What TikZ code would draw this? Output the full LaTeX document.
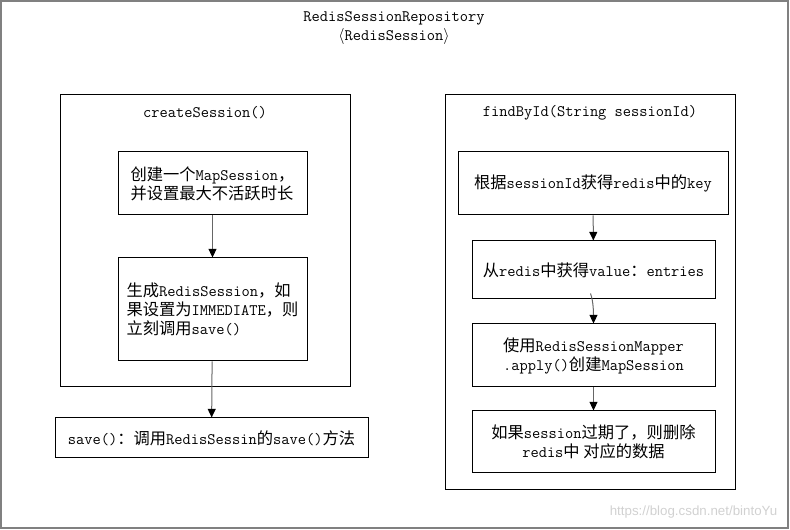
\documentclass[tikz,border=0pt]{standalone}
\usepackage{fontspec}
\newfontfamily\cjk{Noto Sans CJK SC}
\newfontfamily\wmfont{Liberation Sans}
\usetikzlibrary{arrows.meta,calc}

\newlength\unitpx
\setlength\unitpx{0.75pt}
\newcommand\latin{\ttfamily\fontsize{12}{14.25}\selectfont}
\newcommand\zh[1]{{\cjk\fontsize{12.2}{14.25}\selectfont #1}}

\tikzset{
  frame/.style={draw=black, line width=0.75pt, inner sep=0pt},
  stepbox/.style={draw=black, line width=0.75pt, inner sep=0pt, font=\latin},
  arr/.style={draw=black!60, line width=0.75pt, -{Triangle[length=6.5pt,width=6pt,color=black]}}
}

\begin{document}
\begin{tikzpicture}[x=0.75pt,y=0.75pt,yscale=-1,xscale=1]
\useasboundingbox (0,0) rectangle (790,530);

%Shape: Rectangle (outer frame)
\draw [color=black!50, line width=1.5pt] (1,1) rectangle (788,528) ;

% Text Node
\node [font=\latin] (title) at (394,18) {RedisSessionRepository};
% Text Node
\node [font=\latin] (subtitle) at (394,37) {$\langle$RedisSession$\rangle$};

%Shape: Rectangle (left frame)
\node [frame, minimum width=290\unitpx, minimum height=292\unitpx] (create) at (205,241) {};
% Text Node
\node [font=\latin] (createname) at (205,113) {createSession()};

%Shape: Rectangle
\node [stepbox, align=left, minimum width=189\unitpx, minimum height=63\unitpx] (mapsession) at (212.5,183.5)
  {\zh{创建一个}MapSession\zh{，}\\\zh{并设置最大不活跃时长}};
%Shape: Rectangle
\node [stepbox, align=left, minimum width=189\unitpx, minimum height=103\unitpx] (redissession) at (212.5,309.5)
  {\zh{生成}RedisSession\zh{，如}\\\zh{果设置为}IMMEDIATE\zh{，则}\\\zh{立刻调用}save()};
%Shape: Rectangle
\node [stepbox, align=center, minimum width=313\unitpx, minimum height=40\unitpx] (save) at (211.5,438)
  {save()\zh{：调用}RedisSessin\zh{的}save()\zh{方法}};

%Straight Lines
\draw [arr] (mapsession) -- (redissession) ;
%Straight Lines
\draw [arr] (redissession) -- (save) ;

%Shape: Rectangle (right frame)
\node [frame, minimum width=290\unitpx, minimum height=395\unitpx] (find) at (590,292.5) {};
% Text Node
\node [font=\latin] (findname) at (590,113) {findById(String sessionId)};

%Shape: Rectangle
\node [stepbox, align=center, minimum width=270\unitpx, minimum height=63\unitpx] (getkey) at (593,183.5)
  {\zh{根据}sessionId\zh{获得}redis\zh{中的}key};
%Shape: Rectangle
\node [stepbox, align=center, minimum width=243\unitpx, minimum height=58\unitpx] (entries) at (593.5,270)
  {\zh{从}redis\zh{中获得}value\zh{：}entries};
%Shape: Rectangle
\node [stepbox, align=center, minimum width=243\unitpx, minimum height=63\unitpx] (mapper) at (593.5,355.5)
  {\zh{使用}RedisSessionMapper\\.apply()\zh{创建}MapSession};
%Shape: Rectangle
\node [stepbox, align=center, minimum width=243\unitpx, minimum height=62\unitpx] (expired) at (593.5,442)
  {\zh{如果}session\zh{过期了，则删除}\\redis\zh{中 对应的数据}};

%Straight Lines
\draw [arr] (getkey) -- (entries) ;
%Curve Lines
\draw [arr] ($(entries.south)+(-3,-6)$) .. controls +(3,8) and +(0,-10) .. (mapper.north) ;
%Straight Lines
\draw [arr] (mapper) -- (expired) ;

% Text Node
\node [font=\wmfont\fontsize{10}{12}\selectfont, color=black!18, anchor=east] (mark) at (782,512) {https://blog.csdn.net/bintoYu};

\end{tikzpicture}
\end{document}
